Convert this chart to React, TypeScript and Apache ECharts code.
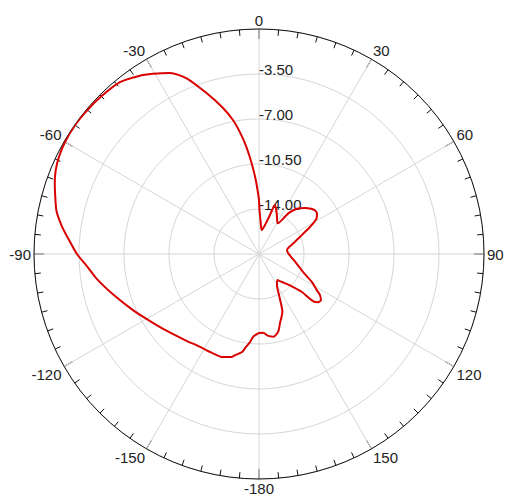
import React, { useEffect, useRef } from "react";
import * as echarts from "echarts";

// Pattern angles (degrees, 0 = top, clockwise positive)
const angleDeg: number[] = [
  -180, -176, -174.2, -172, -170.2, -167, -164.8, -160.2, -154.6, -147.6, -139.3, -129.9, -121.6,
  -114, -106.3, -98.8, -94, -90, -86, -82, -78, -74, -71, -67.5, -64, -60, -55, -50, -45, -39, -34,
  -30.5, -26.2, -22.4, -18, -13.85, -11, -9, -7, -5.5, -4, -2.5, -1.2, 0, 0.6, 2.5, 6.4, 11.7, 15.7, 18,
  24, 31.5, 36, 40, 45, 49, 52, 55, 58, 62, 66, 72, 77, 82, 88, 95, 102, 108, 113, 118, 122, 124,
  126.6, 129, 130.6, 131.5, 134, 137, 140.6, 145, 150, 154, 158, 161, 163, 166, 170, 174, 177, 180,
];

// Normalised gain (dB)
const gainDb: number[] = [
  -11.36, -11.05, -10.62, -10.2, -9.76, -9.45, -9.2, -8.99, -8.98, -8.94, -8.67, -8.17, -7.55,
  -6.77, -5.83, -4.75, -4.08, -3.34, -2.72, -2.02, -1.4, -1.01, -0.7, -0.39, -0.2, -0.08, -0.03, -0.08, -0.16, -0.31, -0.8,
  -1.24, -1.81, -2.72, -4.36, -5.8, -6.88, -7.86, -8.94, -9.88, -10.81, -11.74, -12.6, -13.3, -14.08, -14.86, -15.63, -15.2, -14.35, -13.49,
  -14.1, -14.7, -13.55, -12.91, -12.44, -12.13, -11.98, -12.0, -12.21, -12.99, -13.84, -14.62, -15.1, -15.3, -15.24, -15.0, -14.63, -14.2, -13.7, -12.83, -12.2, -11.78,
  -11.5, -11.55, -11.76, -13.04, -13.8, -14.3, -14.68, -15.04, -14.7, -13.95, -12.65, -12.2, -11.9, -11.3, -10.97, -11.12, -11.36, -11.36,
];

const radiusMin = -17.5;
const radiusMax = 0;
const radiusStep = 3.5;
const angleStep = 30;

const FONT = "'Liberation Sans', Arial, sans-serif";

export default function App() {
  const ref = useRef<HTMLDivElement>(null);

  useEffect(() => {
    if (!ref.current) return;
    const chart = echarts.init(ref.current, null, { renderer: "svg" });
    const data = angleDeg.map((a, i) => [gainDb[i], a < 0 ? a + 360 : a]);
    chart.setOption({
      animation: false,
      polar: { center: [259, 254], radius: 225 },
      angleAxis: {
        type: "value",
        min: 0,
        max: 360,
        interval: angleStep,
        startAngle: 90,
        clockwise: true,
        axisLine: { show: true, lineStyle: { color: "#111", width: 1 } },
        axisTick: { show: true, inside: true, length: 10, lineStyle: { color: "#111", width: 1 } },
        minorTick: { show: true, splitNumber: 6, length: 6, lineStyle: { color: "#111", width: 1 } },
        axisLabel: {
          margin: 3,
          color: "#222",
          fontSize: 15,
          lineHeight: 12,
          fontFamily: FONT,
          formatter: (v: number) => String(v >= 180 ? v - 360 : v),
        },
        splitLine: { show: true, lineStyle: { color: "#d6d6d6", width: 1 } },
      },
      radiusAxis: {
        type: "value",
        min: radiusMin,
        max: radiusMax,
        interval: radiusStep,
        axisLine: { show: false },
        axisTick: { show: false },
        axisLabel: {
          showMinLabel: false,
          showMaxLabel: false,
          formatter: (v: number) => v.toFixed(2),
          align: "left",
          verticalAlign: "bottom",
          lineHeight: 10,
          margin: 0,
          color: "#222",
          fontSize: 15,
          fontFamily: FONT,
        },
        splitLine: { show: true, lineStyle: { color: "#d6d6d6", width: 1 } },
      },
      series: [
        {
          type: "line",
          coordinateSystem: "polar",
          data,
          showSymbol: false,
          smooth: 0.25,
          lineStyle: { color: "#d80000", width: 2 },
          z: 3,
        },
      ],
    });
    return () => chart.dispose();
  }, []);

  return (
    <div
      ref={ref}
      style={{ position: "fixed", left: 0, top: 0, width: 507, height: 495, background: "#fff" }}
    />
  );
}
